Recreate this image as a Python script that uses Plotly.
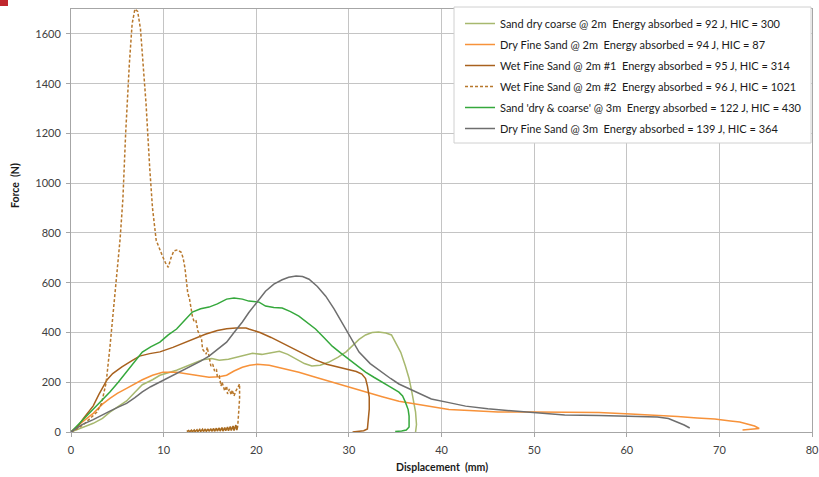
import plotly.graph_objects as go

# Force-displacement curves for sand impact tests
legend_names = [
    "Sand dry coarse @ 2m  Energy absorbed = 92 J, HIC = 300",
    "Dry Fine Sand @ 2m  Energy absorbed = 94 J, HIC = 87",
    "Wet Fine Sand @ 2m #1  Energy absorbed = 95 J, HIC = 314",
    "Wet Fine Sand @ 2m #2  Energy absorbed = 96 J, HIC = 1021",
    "Sand 'dry & coarse' @ 3m  Energy absorbed = 122 J, HIC = 430",
    "Dry Fine Sand @ 3m  Energy absorbed = 139 J, HIC = 364",
]

coarse_2m_x = [0, 1.2, 2.4, 3.4, 4.2, 5.2, 6.0, 6.9, 7.7, 8.8, 9.6, 11.4, 13.1, 14.2, 15.2, 16.0,
               17.0, 17.8, 18.8, 19.6, 20.6, 21.6, 22.5, 23.4, 24.3, 25.2, 26.0, 26.9, 27.8, 28.8,
               29.7, 30.4, 31.1, 31.8, 32.5, 33.2, 34.0, 34.6, 35.0, 35.6, 36.1, 36.5, 36.8, 37.1,
               37.2, 37.3, 37.2]
coarse_2m_f = [0, 18, 35, 55, 80, 105, 125, 160, 190, 210, 228, 248, 275, 290, 295, 288,
               292, 300, 310, 316, 312, 318, 324, 312, 293, 275, 265, 268, 280, 300,
               322, 345, 372, 390, 400, 402, 398, 390, 362, 320, 265, 215, 160, 110,
               80, 30, 0]

fine_2m_x = [0, 1.2, 2.4, 3.4, 4.2, 5.0, 6.0, 7.0, 7.7, 8.8, 9.9, 11.4, 13.1, 14.9, 16.0, 16.8,
             17.6, 18.5, 19.3, 20.1, 21.4, 22.6, 24.6, 26.4, 28.2, 30.0, 31.8, 33.6, 35.4, 37.2,
             38.9, 40.8, 43.0, 46.1, 50.0, 53.3, 57.0, 60.4, 63.0, 65.5, 67.6, 69.5, 71.2, 72.2,
             73.0, 73.8, 74.3, 73.5, 72.5]
fine_2m_f = [0, 40, 75, 112, 135, 155, 175, 195, 210, 228, 240, 240, 230, 220, 222, 228,
             245, 260, 268, 272, 268, 258, 240, 220, 200, 180, 160, 142, 124, 112,
             100, 90, 86, 80, 80, 80, 78, 72, 68, 62, 56, 52, 44, 40,
             32, 24, 14, 10, 8]

wet1_x = [0, 0.8, 1.3, 1.9, 2.4, 3.0, 3.5, 3.9, 4.5, 5.5, 6.5, 7.4, 8.5, 9.6, 11.0, 12.0, 13.1,
          14.5, 15.8, 16.8, 17.8, 18.9, 19.2, 20.4, 21.6, 22.8, 24.0, 25.2, 26.4, 27.6, 28.8,
          30.0, 30.8, 31.4, 31.8, 32.0, 32.2, 32.2, 32.1, 32.0, 31.6, 30.8, 30.4]
wet1_f = [0, 25, 52, 80, 105, 150, 185, 210, 235, 262, 285, 305, 315, 322, 340, 355, 373,
          393, 408, 415, 418, 418, 414, 400, 380, 357, 335, 312, 290, 272, 262,
          250, 243, 233, 215, 185, 140, 92, 40, 12, 5, 3, 0]

# Wet fine sand #2: loading branch (dashed) and rebound branch along the floor
wet2_load_x = [0, 0.8, 1.5, 2.2, 2.8, 3.3, 3.8, 4.2, 4.55, 4.9, 5.3, 5.6, 5.9, 6.3, 6.6, 6.9, 7.2,
               7.5, 7.8, 8.1, 8.5, 8.8, 9.2, 9.5, 9.9, 10.2, 10.5, 10.8, 11.1, 11.5, 11.9, 12.1,
               12.3, 12.6, 12.8, 13.1, 13.3, 13.5, 13.7, 14.1, 14.2, 14.6, 14.7, 14.9, 15.1, 15.3,
               15.5, 15.7, 15.8, 16.0, 16.2, 16.3, 16.6, 16.8, 16.9, 17.1, 17.3, 17.4, 17.6, 17.8,
               18.0, 18.2, 18.2, 18.1, 18.0]
wet2_load_f = [0, 15, 35, 60, 80, 115, 200, 340, 480, 600, 775, 935, 1200, 1480, 1640, 1700, 1690,
               1620, 1480, 1320, 1060, 900, 770, 740, 705, 680, 662, 700, 728, 732, 722, 700,
               660, 560, 534, 466, 442, 446, 406, 373, 333, 313, 341, 305, 265, 273,
               245, 253, 221, 225, 185, 201, 165, 185, 153, 173, 149, 169, 145, 165,
               181, 193, 133, 66, 24]
wet2_rebound_x = [18.0, 17.9, 17.8, 17.6, 17.5, 17.3, 17.2, 17.0, 16.9, 16.7, 16.6, 16.4, 16.3,
                  16.1, 16.0, 15.8, 15.7, 15.5, 15.4, 15.2, 15.1, 14.9, 14.8, 14.6, 14.5, 14.3,
                  14.2, 14.0, 13.9, 13.7, 13.6, 13.4, 13.3, 13.1, 13.0, 12.8, 12.7, 12.5]
wet2_rebound_f = [24, 8, 28, 6, 24, 6, 22, 5, 20, 5, 18, 4, 18,
                  4, 16, 4, 15, 3, 14, 3, 13, 3, 12, 2, 12, 2,
                  11, 2, 10, 2, 9, 1, 8, 1, 7, 1, 6, 2]

coarse_3m_x = [0, 1.2, 2.4, 3.3, 4.2, 5.1, 6.0, 6.9, 7.7, 8.6, 9.6, 10.5, 11.4, 12.3, 13.1, 14.0,
               14.9, 15.8, 16.8, 17.6, 18.5, 19.2, 20.3, 21.0, 21.9, 22.8, 23.7, 24.6, 25.5, 26.4,
               27.3, 28.2, 29.1, 30.0, 30.9, 31.8, 32.7, 33.5, 34.5, 35.4, 35.8, 36.1, 36.4, 36.5,
               36.5, 36.2, 35.7, 35.0]
coarse_3m_f = [0, 45, 92, 128, 161, 200, 241, 282, 321, 342, 361, 390, 414, 450, 482, 495,
               502, 515, 534, 538, 534, 526, 522, 506, 500, 498, 484, 466, 440, 414,
               380, 345, 318, 293, 268, 241, 220, 201, 180, 160, 145, 120, 90, 64,
               20, 8, 4, 2]

fine_3m_x = [0, 1.2, 2.4, 3.3, 4.2, 5.1, 6.0, 6.9, 7.7, 8.6, 9.6, 10.5, 11.4, 12.3, 13.1, 14.0,
             14.9, 15.8, 16.8, 17.6, 18.5, 19.2, 20.3, 21.0, 21.9, 22.8, 23.5, 24.3, 25.0, 25.7,
             26.6, 27.5, 28.4, 29.2, 30.2, 31.1, 32.3, 33.5, 34.5, 35.4, 37.2, 38.9, 40.8, 42.6,
             45.0, 48.0, 51.0, 53.3, 57.0, 60.4, 62.0, 63.3, 64.5, 65.5, 66.2, 66.8]
fine_3m_f = [0, 30, 50, 68, 84, 100, 115, 138, 161, 182, 201, 218, 233, 250, 265, 285,
             305, 330, 361, 400, 442, 480, 530, 566, 594, 612, 622, 627, 625, 614,
             585, 546, 495, 442, 380, 321, 275, 241, 215, 193, 161, 133, 118, 104,
             93, 84, 76, 68, 66, 64, 62, 60, 54, 40, 28, 16]

x_ticks = [0, 10, 20, 30, 40, 50, 60, 70, 80]
y_ticks = [0, 200, 400, 600, 800, 1000, 1200, 1400, 1600]

series = [
    (coarse_2m_x, coarse_2m_f, "#a7b86e", "solid"),
    (fine_2m_x, fine_2m_f, "#f7923a", "solid"),
    (wet1_x, wet1_f, "#a8611e", "solid"),
    (wet2_load_x, wet2_load_f, "#b8782c", "3px,2px"),
    (coarse_3m_x, coarse_3m_f, "#35a83c", "solid"),
    (fine_3m_x, fine_3m_f, "#6e6e6e", "solid"),
]

fig = go.Figure()
for i, (xs, fs, col, dash) in enumerate(series):
    fig.add_trace(go.Scatter(
        x=xs, y=fs, mode="lines", name=legend_names[i], legendgroup=f"g{i}",
        line=dict(color=col, width=1.5, dash=dash),
    ))
    if i == 3:
        # rebound branch of the same test, dense ripple reads as a solid stroke
        fig.add_trace(go.Scatter(
            x=wet2_rebound_x, y=wet2_rebound_f, mode="lines", name=legend_names[i],
            legendgroup=f"g{i}", showlegend=False,
            line=dict(color="#a86a1e", width=1.6),
        ))

font_family = "Lato, 'Open Sans', sans-serif"
axis_common = dict(
    showgrid=True, gridcolor="#c4c4c4", gridwidth=1,
    showline=True, linecolor="#a6a6a6", linewidth=1, mirror=True,
    ticks="outside", ticklen=4, tickcolor="#a6a6a6",
    zeroline=False, ticklabeloverflow="allow", automargin=False,
    tickfont=dict(family=font_family, size=11, color="#404040"),
)

# plot area spans 71..812 px horizontally and 9..432 px vertically
PLOT_L, PLOT_R, PLOT_T, PLOT_B = 71, 812, 9, 432

def px_x(p):
    return (p - PLOT_L) / float(PLOT_R - PLOT_L)

def px_y(p):
    return (PLOT_B - p) / float(PLOT_B - PLOT_T)

fig.update_layout(
    width=819, height=477,
    margin=dict(l=PLOT_L, r=819 - PLOT_R, t=PLOT_T, b=477 - PLOT_B),
    paper_bgcolor="white", plot_bgcolor="white",
    font=dict(family=font_family, size=11, color="#262626"),
    xaxis=dict(range=[0, 80], tickvals=x_ticks, ticklabelstandoff=4, **axis_common),
    yaxis=dict(range=[0, 1700], tickvals=y_ticks, ticklabelstandoff=3, **axis_common),
    showlegend=True,
    legend=dict(
        x=px_x(460), y=px_y(9), xanchor="left", yanchor="top",
        bgcolor="rgba(0,0,0,0)", borderwidth=0,
        font=dict(family=font_family, size=11, color="#1a1a1a"),
        itemwidth=30, tracegroupgap=2,
    ),
    annotations=[
        dict(text="<b>Force\u00a0\u00a0(N)</b>", xref="paper", yref="paper",
             x=px_x(15), y=px_y(185), xanchor="center", yanchor="middle",
             textangle=-90, showarrow=False,
             font=dict(family=font_family, size=10.5, color="#1a1a1a")),
        dict(text="<b>Displacement\u00a0\u00a0(mm)</b>", xref="paper", yref="paper",
             x=px_x(442), y=px_y(467), xanchor="center", yanchor="middle", showarrow=False,
             font=dict(family=font_family, size=10.5, color="#1a1a1a")),
    ],
    shapes=[
        # legend frame
        dict(type="rect", xref="paper", yref="paper", layer="above",
             x0=px_x(454), x1=px_x(811), y0=px_y(143), y1=px_y(7),
             fillcolor="white", line=dict(color="#d0d0d0", width=1)),
        # red corner tab
        dict(type="rect", xref="paper", yref="paper",
             x0=px_x(0), x1=px_x(8), y0=px_y(6), y1=px_y(0),
             fillcolor="#c0272d", line=dict(width=0)),
    ],
)

fig.write_html("out.html")
